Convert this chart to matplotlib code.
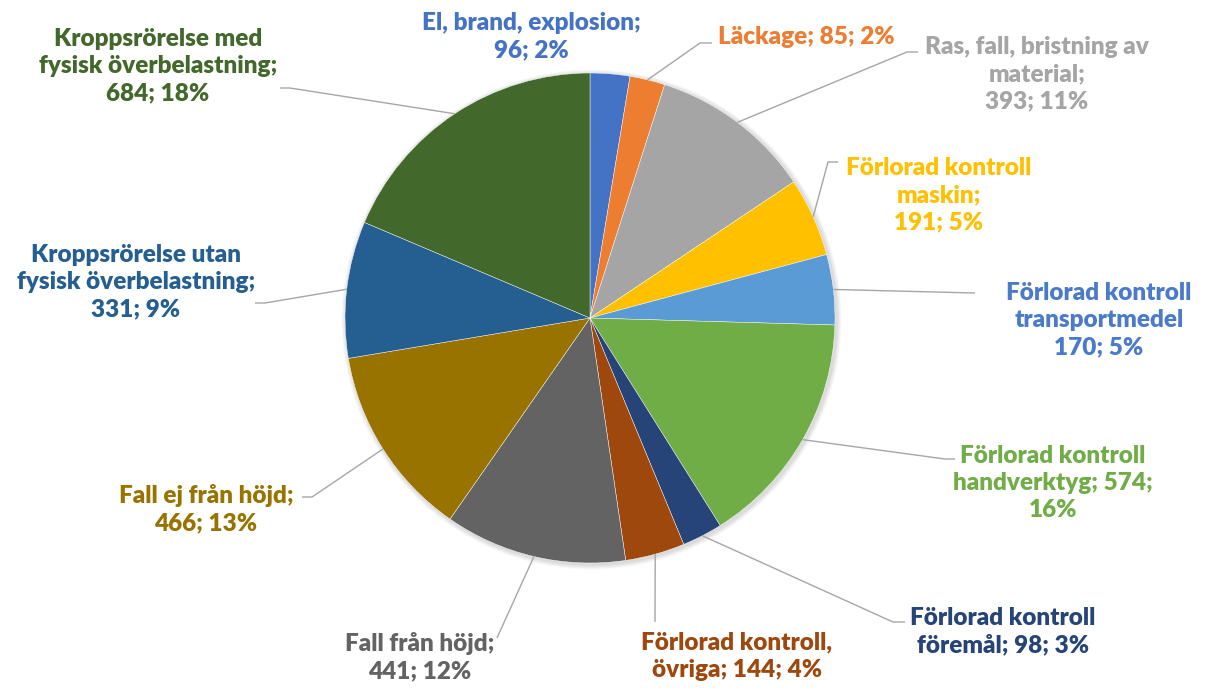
import numpy as np
import matplotlib.pyplot as plt
from matplotlib.patches import Circle

# data (clockwise from 12 o'clock)
categories = [
    "El, brand, explosion",
    "Läckage",
    "Ras, fall, bristning av\nmaterial",
    "Förlorad kontroll\nmaskin",
    "Förlorad kontroll\ntransportmedel",
    "Förlorad kontroll\nhandverktyg",
    "Förlorad kontroll\nföremål",
    "Förlorad kontroll,\növriga",
    "Fall från höjd",
    "Fall ej från höjd",
    "Kroppsrörelse utan\nfysisk överbelastning",
    "Kroppsrörelse med\nfysisk överbelastning",
]
values = [96, 85, 393, 191, 170, 574, 98, 144, 441, 466, 331, 684]
percents = [2, 2, 11, 5, 5, 16, 3, 4, 12, 13, 9, 18]
label_formats = [
    "{c};\n{v}; {p}%",
    "{c}; {v}; {p}%",
    "{c};\n{v}; {p}%",
    "{c};\n{v}; {p}%",
    "{c}\n{v}; {p}%",
    "{c}; {v};\n{p}%",
    "{c}; {v}; {p}%",
    "{c}; {v}; {p}%",
    "{c};\n{v}; {p}%",
    "{c};\n{v}; {p}%",
    "{c};\n{v}; {p}%",
    "{c};\n{v}; {p}%",
]
colors = ['#4472C4', '#ED7D31', '#A5A5A5', '#FFC000', '#5B9BD5', '#70AD47',
          '#264478', '#9E480E', '#636363', '#997300', '#255E91', '#43682B']
text_colors = colors.copy()
text_colors[4] = '#4A7BCB'

# layout in pixel coordinates (y down), label centres and leader line points
W, H = 1206, 688
cx, cy, r = 590, 318, 245
label_pos = [(531, 37), (806, 37), (1037, 74), (939, 195), (1099, 320), (1053, 483),
             (1003, 632), (737, 656), (420, 657), (206, 509), (136, 282), (158, 66)]
leaders = [
    None,
    [(700, 43), (712, 43)],
    [(907, 52), (918, 52)],
    [(828, 162), (838, 162)],
    [(975, 293)],
    [(945, 459), (955, 459)],
    [(893, 622), (905, 622)],
    [(655, 622)],
    [(497, 638)],
    [(312, 497), (302, 497)],
    [(265, 303), (255, 303)],
    [(290, 88), (280, 88)],
]


def fy(y):
    return H - y


fig = plt.figure(figsize=(W / 100, H / 100), dpi=100)
ax = fig.add_axes([0, 0, 1, 1])

# soft shadow behind the pie
for k in range(6):
    ax.add_patch(Circle((cx + 1.5, fy(cy) - 1.5), r + 1 + k * 0.8,
                        facecolor='black', alpha=0.025, edgecolor='none', zorder=0))

wedges, _ = ax.pie(values, colors=colors, startangle=90, counterclock=False,
                   center=(cx, fy(cy)), radius=r,
                   wedgeprops=dict(edgecolor='white', linewidth=0.3))
for w in wedges:
    w.set_zorder(1)

for i, w in enumerate(wedges):
    mid = np.deg2rad((w.theta1 + w.theta2) / 2)
    sx = cx + r * np.cos(mid)
    sy = fy(cy) + r * np.sin(mid)
    if leaders[i] is not None:
        xs = [sx] + [p[0] for p in leaders[i]]
        ys = [sy] + [fy(p[1]) for p in leaders[i]]
        ax.plot(xs, ys, color='#A6A6A6', lw=1.0, zorder=2, solid_capstyle='butt')
    text = label_formats[i].format(c=categories[i], v=values[i], p=percents[i])
    lx, ly = label_pos[i]
    ax.text(lx, fy(ly), text, ha='center', va='center', multialignment='center',
            color=text_colors[i], fontsize=17.5, fontweight='heavy', family='Lato',
            linespacing=1.3, zorder=3)

ax.set_xlim(0, W)
ax.set_ylim(0, H)
ax.set_aspect('equal')
ax.axis('off')

fig.savefig('out.png', dpi=100)
